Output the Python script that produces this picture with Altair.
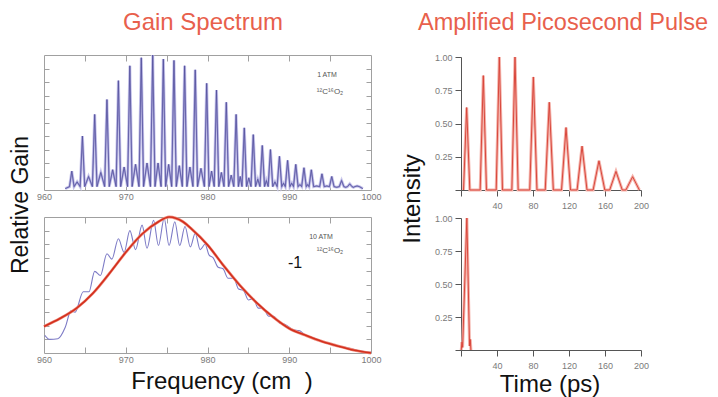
import altair as alt
import pandas as pd

# ---------------- data ----------------
# Gain spectrum, 1 ATM: line centres (cm^-1) and relative gain
peak_freq = [963.4, 964.7, 966.2, 967.7, 969.1, 970.5, 971.9, 973.3, 974.6, 975.9,
             977.2, 978.5, 979.9, 981.1, 982.3, 983.5, 984.5, 985.6, 986.7, 987.7,
             988.8, 989.8, 990.8, 991.8, 992.7, 994.0, 995.2, 996.4, 997.4, 998.3]
peak_gain = [0.14, 0.40, 0.56, 0.67, 0.81, 0.92, 0.98, 1.00, 0.97, 0.96,
             0.92, 0.89, 0.79, 0.74, 0.65, 0.56, 0.46, 0.41, 0.33, 0.30,
             0.25, 0.22, 0.19, 0.165, 0.15, 0.12, 0.10, 0.07, 0.045, 0.03]
# weaker lines lying between the main lines
hot_gain = [0.06, 0.10, 0.13, 0.15, 0.17, 0.19, 0.20, 0.20, 0.19, 0.18,
            0.17, 0.16, 0.14, 0.13, 0.11, 0.10, 0.09, 0.08, 0.07, 0.06,
            0.05, 0.05, 0.04, 0.04, 0.03, 0.03, 0.02, 0.02, 0.02]
valley_gain = 0.025
spec_edges = [962.6, 999.0]
line_halfwidth = 0.28

# Gain spectrum, 10 ATM: measured (blue) and smooth envelope (red)
blue_freq = [960.1, 960.7, 961.7, 962.6, 963.3, 963.8, 964.8, 965.5, 966.2, 966.9,
             967.7, 968.3, 969.1, 969.8, 970.5, 971.2, 972.0, 972.6, 973.4, 974.0,
             974.7, 975.3, 976.0, 976.6, 977.25, 977.9, 978.5, 979.1, 979.7, 980.2,
             980.7, 981.3, 981.9, 982.5, 983.2, 983.8, 984.4, 985.0, 985.6, 986.2,
             986.8, 987.5, 988.1, 988.8, 989.5, 990.5, 991.2, 992.0, 993.0, 994.0,
             995.0, 996.0, 997.0, 998.0, 999.0, 1000.0]
blue_gain = [0.13, 0.10, 0.105, 0.19, 0.31, 0.30, 0.45, 0.45, 0.60, 0.57,
             0.73, 0.69, 0.84, 0.74, 0.90, 0.76, 0.94, 0.77, 0.975, 0.79,
             0.99, 0.79, 0.965, 0.79, 0.93, 0.78, 0.88, 0.76, 0.80, 0.72,
             0.70, 0.63, 0.62, 0.55, 0.55, 0.47, 0.46, 0.39, 0.40, 0.33,
             0.33, 0.27, 0.27, 0.22, 0.21, 0.17, 0.165, 0.13, 0.11, 0.085,
             0.07, 0.05, 0.04, 0.025, 0.012, 0.005]
red_freq = [960, 962, 964, 966, 968, 970, 972, 974, 975.3, 977, 978, 980,
            982, 984, 986, 988, 990, 992, 994, 996, 998, 1000]
red_gain = [0.195, 0.255, 0.33, 0.44, 0.585, 0.74, 0.875, 0.965, 1.0, 0.965, 0.915, 0.795,
            0.64, 0.495, 0.37, 0.265, 0.18, 0.13, 0.085, 0.05, 0.02, 0.0]

# Amplified pulse train (ps, intensity)
pulse_time = [6.3, 24.8, 42.6, 60.0, 80.4, 98.1, 116.7, 134.5, 153.3, 172.2, 190.7]
pulse_peak = [0.62, 0.86, 1.0, 1.0, 0.85, 0.66, 0.47, 0.33, 0.22, 0.14, 0.10]
pulse_halfwidth = [3.5, 3.5, 3.5, 3.5, 4.0, 4.5, 5.0, 5.5, 6.5, 7.0, 7.5]

# Single pulse
single_time = [0.3, 1.0, 1.8, 6.5, 9.5, 10.3, 11.0]
single_int = [0.0, 0.06, 0.02, 1.0, 0.03, 0.08, 0.0]

freq_labels = [960, 970, 980, 990, 1000]
freq_ticks = [965, 970, 975, 980, 985, 990, 995]
gain_ticks = [0.1, 0.2, 0.3, 0.4, 0.5, 0.6, 0.7, 0.8, 0.9]
time_ticks = [0, 40, 80, 120, 160, 200]
int_ticks = [0, 0.25, 0.5, 0.75, 1.0]

# ---------------- build tables ----------------
fs, gs = [spec_edges[0]], [0.01]
for i, (f, h) in enumerate(zip(peak_freq, peak_gain)):
    fs += [f - line_halfwidth, f, f + line_halfwidth]
    gs += [valley_gain, h, valley_gain]
    if i < len(hot_gain):
        fs.append((f + peak_freq[i + 1]) / 2)
        gs.append(hot_gain[i])
fs.append(spec_edges[1]); gs.append(0.01)
spec_df = pd.DataFrame({"f": fs, "g": gs})

blue_df = pd.DataFrame({"f": blue_freq, "g": blue_gain})
red_df = pd.DataFrame({"f": red_freq, "g": red_gain})

ts, vs = [], []
for t, h, w in zip(pulse_time, pulse_peak, pulse_halfwidth):
    ts += [t - w, t, t + w]
    vs += [0.0, h, 0.0]
train_df = pd.DataFrame({"t": ts, "v": vs})
single_df = pd.DataFrame({"t": single_time, "v": single_int})

# ---------------- layout ----------------
W, H = 694, 381
FONT = "Liberation Sans"
FRAME = "#a0a0a0"
AXDARK = "#555555"
LABEL = "#7a7a7a"
TITLE_RED = "#E8604C"

TL = dict(x=[36, 363], y=[182, 47])
BL = dict(x=[36, 363], y=[345, 209])
TR = dict(x=[453, 633], y=[182, 49])
BR = dict(x=[453, 633], y=[342, 210])


def ax(orient, offset, values, labels=False, ticks=True, domain=True, tick_size=5,
       color=FRAME, **kw):
    args = dict(orient=orient, offset=offset, values=values, grid=False, title=None,
                labels=labels, ticks=ticks, domain=domain, domainColor=color,
                tickColor=color, labelColor=LABEL, labelFont=FONT, labelFontSize=9,
                labelFlush=False, labelOverlap=False)
    if ticks:
        args["tickSize"] = tick_size
    args.update(kw)
    return alt.Axis(**args)


def xb(px):   # bottom-oriented axis drawn at view y = px
    return px - H


def xt(px):   # top-oriented axis drawn at view y = px
    return -px


def yl(px):   # left-oriented axis drawn at view x = px
    return -px


def yr(px):   # right-oriented axis drawn at view x = px
    return px - W


def left_panel(geo, layers_spec):
    xs = alt.Scale(domain=[960, 1000], range=geo["x"], nice=False, zero=False)
    ys = alt.Scale(domain=[0, 1], range=geo["y"], nice=False, zero=False)
    x0, x1 = geo["x"]
    ybot, ytop = geo["y"]
    axes = [
        (ax("bottom", xb(ybot), freq_labels, labels=True, ticks=False, labelPadding=2,
            format="d"),
         ax("right", yr(x0), gain_ticks, tick_size=5)),
        (ax("bottom", xb(ytop), freq_ticks, tick_size=6),
         ax("left", yl(x1), gain_ticks, tick_size=5)),
        (ax("top", xt(ybot), freq_ticks, tick_size=6, domain=False), None),
    ]
    out = []
    for (df, color, sw, interp), (axx, axy) in zip(layers_spec, axes):
        out.append(
            alt.Chart(df).mark_line(color=color, strokeWidth=sw, interpolate=interp).encode(
                x=alt.X("f:Q", scale=xs, axis=axx),
                y=alt.Y("g:Q", scale=ys, axis=axy),
            )
        )
    return out


def right_panel(geo, df):
    xs = alt.Scale(domain=[0, 200], range=geo["x"], nice=False, zero=False)
    ys = alt.Scale(domain=[0, 1], range=geo["y"], nice=False, zero=False)
    x0, _ = geo["x"]
    ybot, _ = geo["y"]
    axx = ax("bottom", xb(ybot), time_ticks, labels=True, tick_size=6, color=AXDARK,
             labelPadding=5, labelExpr="datum.value == 0 ? '' : datum.label")
    axy = ax("left", yl(x0), int_ticks, labels=True, tick_size=6, color=AXDARK,
             labelPadding=3, format=".2f",
             labelExpr="datum.value == 0 ? '' : datum.label")
    halo = alt.Chart(df).mark_line(color="#f4b3ab", strokeWidth=3).encode(
        x=alt.X("t:Q", scale=xs, axis=axx),
        y=alt.Y("v:Q", scale=ys, axis=axy),
    )
    core = alt.Chart(df).mark_line(color="#d9473c", strokeWidth=1).encode(
        x=alt.X("t:Q", scale=xs, axis=None),
        y=alt.Y("v:Q", scale=ys, axis=None),
    )
    return [halo, core]


def label(text, x, y, size, color="#111111", angle=0, baseline="alphabetic", align="center"):
    return alt.Chart(pd.DataFrame({"t": [text]})).mark_text(
        font=FONT, fontSize=size, color=color, angle=angle, baseline=baseline, align=align
    ).encode(x=alt.value(x), y=alt.value(y), text="t:N")


layers = []
layers += left_panel(TL, [
    (spec_df, "#cfcdee", 3.0, "linear"),
    (spec_df, "#9d99d4", 1.5, "linear"),
    (spec_df, "#4f4c98", 0.7, "linear"),
])
layers += left_panel(BL, [
    (blue_df, "#7d7bc6", 1.1, "monotone"),
    (red_df, "#ee8a7b", 2.8, "monotone"),
    (red_df, "#d3301e", 1.6, "monotone"),
])
layers += right_panel(TR, train_df)
layers += right_panel(BR, single_df)

layers += [
    label("Gain Spectrum", 195, 22, 24, TITLE_RED),
    label("Amplified Picosecond Pulse", 555, 22, 23.5, TITLE_RED),
    label("Relative Gain", 13, 197, 23, angle=270, baseline="middle"),
    label("Intensity", 405, 191, 24, angle=270, baseline="middle"),
    label("Frequency (cm\u00a0\u00a0)", 214, 381, 24),
    label("Time (ps)", 542, 384, 24),
    label("-1", 287, 260, 16),
    label("1 ATM", 319, 69, 7, "#555555"),
    label("\u00b9\u00b2C\u00b9\u2076O\u2082", 322, 86, 8, "#555555"),
    label("10 ATM", 313, 231, 7, "#555555"),
    label("\u00b9\u00b2C\u00b9\u2076O\u2082", 322, 245, 8, "#555555"),
]

chart = alt.layer(*layers).resolve_scale(
    x="independent", y="independent"
).resolve_axis(
    x="independent", y="independent"
).properties(
    width=W, height=H,
    autosize=alt.AutoSizeParams(type="none"),
    padding={"left": 0, "top": 0, "right": 8, "bottom": 8},
).configure_view(strokeWidth=0)

chart.save("out.html", embed_options={"renderer": "svg", "actions": False})
